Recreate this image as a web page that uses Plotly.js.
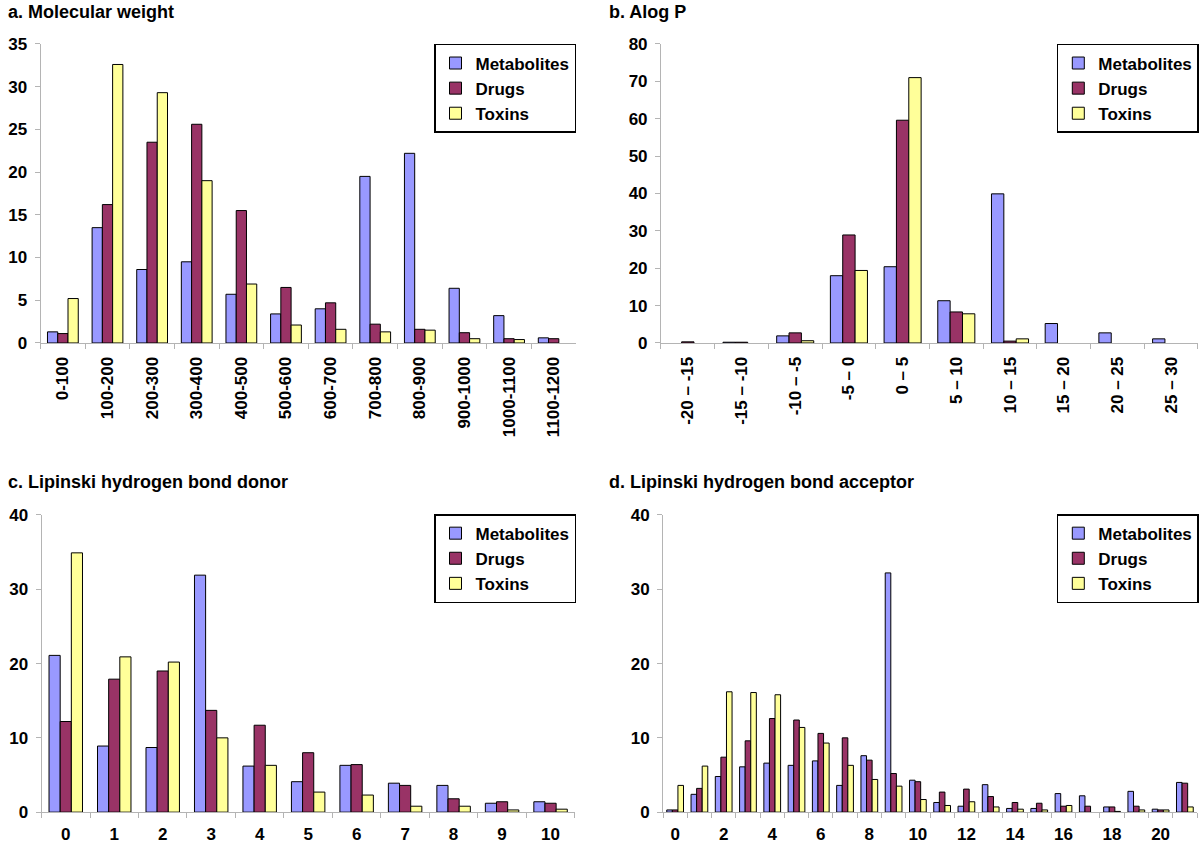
<!DOCTYPE html>
<html>
<head>
<meta charset="utf-8">
<script src="https://cdn.plot.ly/plotly-3.0.1.min.js"></script>
<style>
  html, body { margin: 0; padding: 0; background: #fff; }
  #chart { width: 1200px; height: 854px; }
</style>
</head>
<body>
<div id="chart"></div>
<script>
// a. Molecular weight
const mwCats = ['0-100', '100-200', '200-300', '300-400', '400-500', '500-600',
  '600-700', '700-800', '800-900', '900-1000', '1000-1100', '1100-1200'];
const mwMetabolites = [1.3, 13.5, 8.6, 9.5, 5.7, 3.4, 4.0, 19.5, 22.2, 6.4, 3.2, 0.6];
const mwDrugs = [1.1, 16.2, 23.5, 25.6, 15.5, 6.5, 4.7, 2.2, 1.6, 1.2, 0.5, 0.5];
const mwToxins = [5.2, 32.6, 29.3, 19.0, 6.9, 2.1, 1.6, 1.3, 1.5, 0.5, 0.4, null];

// b. Alog P
const logpCats = ['-20 – -15', '-15 – -10', '-10 – -5', '-5 – 0', '0 – 5',
  '5 – 10', '10 – 15', '15 – 20', '20 – 25', '25 – 30'];
const logpMetabolites = [null, 0.2, 1.9, 18.0, 20.4, 11.3, 39.9, 5.2, 2.7, 1.1];
const logpDrugs = [0.3, 0.2, 2.7, 28.9, 59.6, 8.3, 0.5, null, null, null];
const logpToxins = [null, null, 0.6, 19.4, 71.0, 7.8, 1.1, null, null, null];

// c. Lipinski hydrogen bond donor
const donCats = ['0', '1', '2', '3', '4', '5', '6', '7', '8', '9', '10'];
const donMetabolites = [21.1, 8.9, 8.7, 31.9, 6.2, 4.1, 6.3, 3.9, 3.6, 1.2, 1.4];
const donDrugs = [12.2, 17.9, 19.0, 13.7, 11.7, 8.0, 6.4, 3.6, 1.8, 1.4, 1.2];
const donToxins = [34.9, 20.9, 20.2, 10.0, 6.3, 2.7, 2.3, 0.8, 0.8, 0.3, 0.4];

// d. Lipinski hydrogen bond acceptor
const accCats = ['0', '1', '2', '3', '4', '5', '6', '7', '8', '9', '10', '11',
  '12', '13', '14', '15', '16', '17', '18', '19', '20', '21'];
const accTickText = ['0', '', '2', '', '4', '', '6', '', '8', '', '10', '',
  '12', '', '14', '', '16', '', '18', '', '20', ''];
const accMetabolites = [0.3, 2.4, 4.8, 6.1, 6.6, 6.3, 6.9, 3.6, 7.6, 32.2, 4.3,
  1.3, 0.8, 3.7, 0.5, 0.5, 2.5, 2.2, 0.7, 2.8, 0.4, 4.0];
const accDrugs = [0.3, 3.2, 7.4, 9.6, 12.6, 12.4, 10.6, 10.0, 7.0, 5.2, 4.1,
  2.7, 3.1, 2.1, 1.3, 1.2, 0.8, 0.8, 0.7, 0.8, 0.3, 3.9];
const accToxins = [3.6, 6.2, 16.2, 16.1, 15.8, 11.4, 9.3, 6.3, 4.4, 3.5, 1.7,
  0.9, 1.4, 0.7, 0.4, 0.3, 0.9, null, 0.1, 0.3, 0.3, 0.7];

const seriesNames = ['Metabolites', 'Drugs', 'Toxins'];
const seriesColors = ['#9999FF', '#993366', '#FFFF99'];

const FONT = '"Liberation Sans", Arial, sans-serif';
const AXIS_GREY = '#b4b4b4';

const panels = [
  { cats: mwCats, vals: [mwMetabolites, mwDrugs, mwToxins], xa: 'x', ya: 'y', lg: 'legend' },
  { cats: logpCats, vals: [logpMetabolites, logpDrugs, logpToxins], xa: 'x2', ya: 'y2', lg: 'legend2' },
  { cats: donCats, vals: [donMetabolites, donDrugs, donToxins], xa: 'x3', ya: 'y3', lg: 'legend3' },
  { cats: accCats, vals: [accMetabolites, accDrugs, accToxins], xa: 'x4', ya: 'y4', lg: 'legend4' }
];

const traces = [];
panels.forEach(p => {
  p.vals.forEach((v, i) => {
    traces.push({
      type: 'bar',
      x: p.cats,
      y: v,
      name: seriesNames[i],
      xaxis: p.xa,
      yaxis: p.ya,
      legend: p.lg,
      marker: { color: seriesColors[i], line: { color: '#000', width: 1 } },
      hoverinfo: 'x+y+name'
    });
  });
});

const tickFont = { family: FONT, size: 17, color: '#000', weight: 700 };

function xAxis(domain, anchor, extra) {
  return Object.assign({
    domain: domain,
    anchor: anchor,
    type: 'category',
    showline: true,
    linecolor: AXIS_GREY,
    linewidth: 1,
    ticks: 'outside',
    tickson: 'boundaries',
    ticklen: 5,
    tickcolor: AXIS_GREY,
    ticklabelstandoff: 6,
    showgrid: false,
    zeroline: false,
    tickfont: tickFont,
    fixedrange: true
  }, extra || {});
}

function yAxis(domain, anchor, max, step) {
  return {
    domain: domain,
    anchor: anchor,
    range: [0, max],
    dtick: step,
    showline: true,
    linecolor: AXIS_GREY,
    linewidth: 1,
    ticks: 'outside',
    ticklen: 5,
    tickcolor: AXIS_GREY,
    ticklabelstandoff: 4,
    showgrid: false,
    zeroline: false,
    tickfont: tickFont,
    fixedrange: true
  };
}

function legendAt(x, y) {
  return {
    x: x, y: y, xanchor: 'right', yanchor: 'top',
    bgcolor: '#fff',
    bordercolor: '#000',
    borderwidth: 1.5,
    itemwidth: 30,
    tracegroupgap: 0,
    font: { family: FONT, size: 17, color: '#000', weight: 700 }
  };
}

const titleFont = { family: FONT, size: 18, color: '#000', weight: 700 };
function panelTitle(text, x, y) {
  return { text: text, xref: 'paper', yref: 'paper', x: x, y: y,
    xanchor: 'left', yanchor: 'middle', showarrow: false, font: titleFont };
}

const layout = {
  width: 1200,
  height: 854,
  margin: { l: 0, r: 0, t: 0, b: 0 },
  paper_bgcolor: '#fff',
  plot_bgcolor: '#fff',
  barmode: 'group',
  bargap: 0.31,
  bargroupgap: 0,
  font: { family: FONT, color: '#000' },

  xaxis: xAxis([0.0338, 0.48], 'y', { tickangle: -90 }),
  yaxis: yAxis([0.5984, 0.9485], 'x', 35, 5),
  xaxis2: xAxis([0.5508, 0.9983], 'y2', { tickangle: -90 }),
  yaxis2: yAxis([0.5984, 0.9485], 'x2', 80, 10),
  xaxis3: xAxis([0.0346, 0.479], 'y3', { tickangle: 0 }),
  yaxis3: yAxis([0.049, 0.397], 'x3', 40, 10),
  xaxis4: xAxis([0.5525, 0.9975], 'y4', { tickangle: 0, tickmode: 'array', tickvals: accCats, ticktext: accTickText }),
  yaxis4: yAxis([0.049, 0.397], 'x4', 40, 10),

  legend: legendAt(0.48, 0.9485),
  legend2: legendAt(0.999, 0.9485),
  legend3: legendAt(0.48, 0.398),
  legend4: legendAt(0.999, 0.398),

  annotations: [
    panelTitle('a. Molecular weight', 0.005, 0.986),
    panelTitle('b. Alog P', 0.506, 0.986),
    panelTitle('c. Lipinski hydrogen bond donor', 0.005, 0.436),
    panelTitle('d. Lipinski hydrogen bond acceptor', 0.506, 0.436)
  ]
};

Plotly.newPlot('chart', traces, layout, { displayModeBar: false, staticPlot: true });
</script>
</body>
</html>
